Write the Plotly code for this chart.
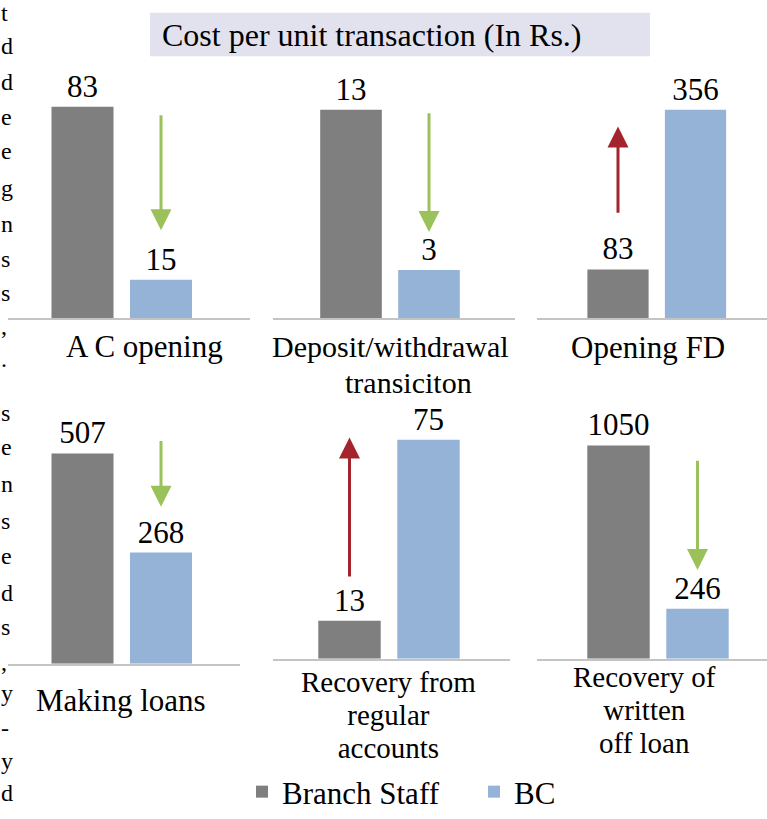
import plotly.graph_objects as go

# ---------------- data ----------------
categories = [
    "A C opening",
    "Deposit/withdrawal transiciton",
    "Opening FD",
    "Making loans",
    "Recovery from regular accounts",
    "Recovery of written off loan",
]
branch_staff = [83, 13, 83, 507, 13, 1050]
bc = [15, 3, 356, 268, 75, 246]
series_names = ["Branch Staff", "BC"]
title_text = "Cost per unit transaction (In Rs.)"

# label text blocks for each panel (as printed under each mini chart)
label_blocks = [
    [["A C opening"]],
    [["Deposit/withdrawal"], ["transiciton"]],
    [["Opening FD"]],
    [["Making loans"]],
    [["Recovery from", "regular", "accounts"]],
    [["Recovery of", "written", "off loan"]],
]

# fragments of body text at the left edge of the page
edge_letters_top = ["t", "d", "d", "e", "e", "g", "n", "s", "s", ",", "."]
edge_letters_bottom = ["s", "e", "n", "s", "e", "d", "s", ",", "y", "-", "y", "d"]

# ---------------- layout helpers ----------------
W, H = 767, 819
GRAY = "#7f7f7f"
BLUE = "#95b3d7"
GREEN = "#9bc15a"
RED = "#a3242c"
SERIF = "Liberation Serif"


def fx(px):
    return px / W


def fy(py):
    return 1 - py / H


# panel geometry in pixels: (left, right, bar centre 0, bar centre 1, top, bottom, bar px height for max)
panels = [
    (8, 250, 82.5, 161, 100, 322, 214),
    (273, 515, 351, 429, 100, 322, 211),
    (537, 767, 618, 695.5, 100, 322, 211),
    (8, 240, 82.5, 161, 450, 672, 213),
    (273, 510, 349.5, 428.5, 445, 667, 222),
    (537, 767, 618.5, 697.5, 445, 667, 216),
]
# label block positions (centre x, centre y), line spacing and glyph size in px
label_pos = [
    [(144, 351)],
    [(390, 351), (408, 387)],
    [(648, 352)],
    [(121, 709)],
    [(388, 724)],
    [(644, 719)],
]
line_gap = [31, 24, 31, 31, 33, 33]
label_size = [31, 30, 31, 31, 29, 29]
# arrow tail / head as fraction of each panel's y-domain
arrow_frac = [
    (0.932, 0.401),
    (0.941, 0.392),
    (0.473, 0.874),
    (1.023, 0.716),
    (0.369, 1.009),
    (0.910, 0.405),
]

fig = go.Figure()
layout = dict(
    width=W,
    height=H,
    margin=dict(l=0, r=0, t=0, b=0),
    paper_bgcolor="white",
    plot_bgcolor="rgba(0,0,0,0)",
    barmode="overlay",
    showlegend=True,
    legend=dict(
        orientation="h",
        x=fx(242),
        xanchor="left",
        y=fy(802),
        yanchor="middle",
        font=dict(family=SERIF, size=31, color="black"),
        bgcolor="rgba(0,0,0,0)",
        entrywidthmode="pixels",
        entrywidth=187,
    ),
)

annotations = []
shapes = []

for i, (cat, bs, b) in enumerate(zip(categories, branch_staff, bc)):
    k = i + 1
    xa = "x" if k == 1 else f"x{k}"
    ya = "y" if k == 1 else f"y{k}"
    L, R, c0, c1, top, bot, hpx = panels[i]
    s = c1 - c0
    a = -(c0 - L) / s
    bmax = a + (R - L) / s
    vmax = max(bs, b)
    ymax = vmax * (bot - top) / hpx

    for name, val, col in zip(series_names, [bs, b], [GRAY, BLUE]):
        fig.add_trace(
            go.Bar(
                x=[name],
                y=[val],
                name=name,
                marker=dict(color=col, line=dict(width=0)),
                width=0.79,
                text=[str(val)],
                textposition="outside",
                textfont=dict(family=SERIF, size=31, color="black"),
                constraintext="none",
                cliponaxis=False,
                xaxis=xa,
                yaxis=ya,
                legendgroup=name,
                showlegend=(i == 0),
                hoverinfo="skip",
            )
        )

    layout["xaxis" if k == 1 else f"xaxis{k}"] = dict(
        domain=[fx(L), fx(R)],
        anchor=ya,
        type="category",
        categoryorder="array",
        categoryarray=series_names,
        range=[a, bmax],
        showticklabels=False,
        ticks="",
        showgrid=False,
        zeroline=False,
        showline=True,
        linecolor="#c4c4c4",
        linewidth=2,
        fixedrange=True,
    )
    layout["yaxis" if k == 1 else f"yaxis{k}"] = dict(
        domain=[fy(bot), fy(top)],
        anchor=xa,
        range=[0, ymax],
        visible=False,
        fixedrange=True,
    )

    # category labels: base font sets the line spacing, inner span sets glyph size
    base = line_gap[i] / 1.3
    for lines, (cx, cy) in zip(label_blocks[i], label_pos[i]):
        txt = "<br>".join(
            f"<span style='font-size:{label_size[i]}px'>{ln}</span>" for ln in lines
        )
        annotations.append(
            dict(
                text=txt,
                x=fx(cx),
                y=fy(cy),
                xref="paper",
                yref="paper",
                xanchor="center",
                yanchor="middle",
                align="center",
                showarrow=False,
                font=dict(family=SERIF, size=base, color="black"),
            )
        )

    # arrow: from the taller bar's level towards the smaller one, above the smaller bar
    small = series_names[1] if b < bs else series_names[0]
    colr = GREEN if b < bs else RED
    tail, head = arrow_frac[i]
    annotations.append(
        dict(
            text="",
            x=small,
            y=head,
            xref=xa,
            yref=f"{ya} domain",
            ax=small,
            ay=tail,
            axref=xa,
            ayref=f"{ya} domain",
            showarrow=True,
            arrowhead=2,
            arrowsize=1.4,
            arrowwidth=3,
            arrowcolor=colr,
        )
    )

# title box
shapes.append(
    dict(
        type="rect",
        xref="paper",
        yref="paper",
        x0=fx(150),
        x1=fx(650),
        y0=fy(57),
        y1=fy(13),
        fillcolor="#e2e2ef",
        line=dict(width=0),
        layer="below",
    )
)
annotations.append(
    dict(
        text=title_text,
        x=fx(160),
        y=fy(35),
        xref="paper",
        yref="paper",
        xanchor="left",
        yanchor="middle",
        showarrow=False,
        font=dict(family=SERIF, size=32, color="black"),
    )
)

# body-text letters at the left edge
top_y = [13, 47, 83, 118, 153, 190, 227, 262, 297, 330, 363]
bot_y = [418, 453, 490, 527, 563, 600, 635, 670, 702, 737, 770, 803]
for ch, yy in list(zip(edge_letters_top, top_y)) + list(zip(edge_letters_bottom, bot_y)):
    annotations.append(
        dict(
            text=ch,
            x=0,
            y=fy(yy),
            xref="paper",
            yref="paper",
            xanchor="left",
            yanchor="middle",
            showarrow=False,
            borderpad=0,
            font=dict(family=SERIF, size=24, color="black"),
        )
    )

layout["annotations"] = annotations
layout["shapes"] = shapes
fig.update_layout(**layout)
fig.write_html(
    "out.html",
    config={"displayModeBar": False},
    post_script="document.body.style.margin='0';document.body.style.overflow='hidden';",
)
